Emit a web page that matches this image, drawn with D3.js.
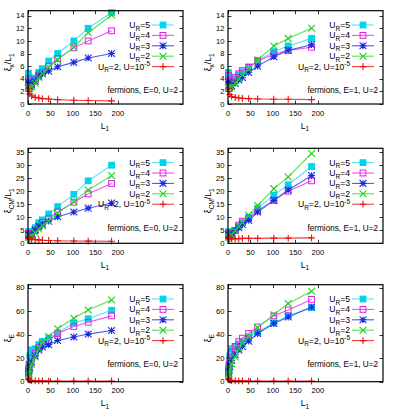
<!DOCTYPE html>
<html><head><meta charset="utf-8">
<script src="https://cdn.jsdelivr.net/npm/d3@7"></script>
<style>body{margin:0;background:#fff} svg{display:block} text{font-family:"Liberation Sans",Arial,sans-serif;fill:#000}</style>
</head><body><svg id="c" width="399" height="417"></svg>
<script>
// ---------- data ----------
const L1 = [1, 2, 4, 8, 16, 24, 32, 46, 66, 102, 134, 186];
const xTicks = [0, 50, 100, 150, 200];
const yTicksRow1 = [0, 2, 4, 6, 8, 10, 12, 14];
const yTicksRow2 = [0, 5, 10, 15, 20, 25, 30, 35];
const yTicksRow3 = [0, 20, 40, 60, 80];
const seriesNames = ["UR5", "UR4", "UR3", "UR2", "red"];
const panelTitles = ["fermions, E=0, U=2", "fermions, E=1, U=2"];

// xi_x / L1, E=0
const xiX_E0_UR5 = [4.9, 4.3, 3.3, 3.9, 4.1, 5.0, 5.6, 6.8, 8.0, 10.0, 12.0, 14.5];
const xiX_E0_UR4 = [4.0, 3.5, 3.0, 3.2, 3.8, 4.6, 5.0, 6.0, 7.2, 8.9, 10.0, 11.6];
const xiX_E0_UR3 = [3.4, 3.0, 2.8, 3.0, 3.6, 4.4, 4.8, 5.2, 5.9, 6.6, 7.3, 8.0];
const xiX_E0_UR2 = [2.7, 2.6, 2.5, 2.7, 3.3, 4.2, 4.8, 5.8, 7.0, 9.0, 11.3, 14.1];
const xiX_E0_red = [2.5, 2.0, 1.6, 1.3, 1.05, 0.95, 0.85, 0.8, 0.7, 0.6, 0.55, 0.5];
// xi_x / L1, E=1
const xiX_E1_UR5 = [5.0, 4.3, 3.3, 3.6, 4.0, 4.6, 5.1, 5.9, 6.9, 8.3, 9.2, 10.4];
const xiX_E1_UR4 = [4.5, 3.8, 3.3, 3.5, 4.2, 4.8, 5.3, 5.8, 6.8, 7.9, 8.5, 9.0];
const xiX_E1_UR3 = [3.5, 3.0, 2.8, 2.9, 3.3, 3.8, 4.2, 5.0, 6.0, 7.5, 8.5, 9.4];
const xiX_E1_UR2 = [2.7, 2.6, 2.5, 2.7, 3.2, 4.0, 4.6, 5.5, 7.0, 9.2, 10.4, 12.0];
const xiX_E1_red = [2.5, 2.0, 1.5, 1.2, 1.05, 0.95, 0.9, 0.85, 0.8, 0.75, 0.75, 0.7];
// xi_CM / L1, E=0
const xiCM_E0_UR5 = [4.5, 3.8, 3.5, 4.5, 6.0, 7.9, 9.0, 11.3, 14.1, 18.8, 24.0, 30.0];
const xiCM_E0_UR4 = [3.8, 3.2, 3.0, 3.8, 5.0, 6.5, 8.0, 9.5, 12.0, 15.8, 19.0, 23.0];
const xiCM_E0_UR3 = [3.3, 3.0, 3.0, 3.5, 5.0, 6.5, 7.3, 8.5, 10.2, 12.0, 13.5, 15.5];
const xiCM_E0_UR2 = [2.3, 2.3, 2.5, 3.0, 4.0, 5.5, 6.8, 8.5, 11.5, 16.0, 20.5, 26.0];
const xiCM_E0_red = [2.3, 1.9, 1.7, 1.5, 1.4, 1.3, 1.2, 1.1, 1.0, 0.9, 0.85, 0.8];
// xi_CM / L1, E=1
const xiCM_E1_UR5 = [4.5, 4.0, 3.5, 4.0, 5.0, 6.5, 8.0, 10.0, 13.5, 18.5, 22.5, 29.5];
const xiCM_E1_UR4 = [4.0, 3.5, 3.3, 4.0, 5.0, 7.0, 8.5, 9.5, 12.5, 16.5, 20.0, 24.0];
const xiCM_E1_UR3 = [3.3, 3.0, 3.0, 3.5, 4.8, 6.0, 7.2, 8.8, 12.0, 16.5, 20.5, 26.0];
const xiCM_E1_UR2 = [2.3, 2.3, 2.6, 3.2, 4.8, 6.5, 8.0, 10.8, 14.5, 21.0, 25.5, 34.5];
const xiCM_E1_red = [2.3, 1.9, 1.8, 1.8, 1.8, 1.8, 1.9, 1.9, 1.9, 2.0, 2.0, 2.1];
// xi_E, E=0
const xiE_E0_UR5 = [10, 15, 22, 27, 28, 31.5, 34.3, 37.2, 41.4, 49.9, 53.6, 60.7];
const xiE_E0_UR4 = [8, 11, 15, 20, 24, 29, 32, 35, 41, 47, 50.5, 56];
const xiE_E0_UR3 = [7, 9, 12, 17, 22, 27, 29.5, 31.5, 35, 38, 40.5, 43.5];
const xiE_E0_UR2 = [5, 7, 10, 15, 21, 28, 33, 38.5, 45, 54, 61, 69.5];
const xiE_E0_red = [2.5, 1.8, 1.3, 1.0, 0.8, 0.7, 0.7, 0.6, 0.6, 0.6, 0.6, 0.6];
// xi_E, E=1
const xiE_E1_UR5 = [10, 15, 22, 28, 30, 32, 34, 38, 42, 50, 56, 63];
const xiE_E1_UR4 = [8, 12, 18, 25, 30, 34, 37, 41, 46.5, 56, 61, 70];
const xiE_E1_UR3 = [7, 9, 13, 18, 23, 27, 30, 34.5, 41, 49.5, 55, 63.5];
const xiE_E1_UR2 = [5, 7, 10, 15, 21, 28, 33, 38, 46, 57, 66.5, 77];
const xiE_E1_red = [2.5, 1.8, 1.3, 1.0, 0.8, 0.7, 0.7, 0.6, 0.6, 0.6, 0.6, 0.6];

// ---------- layout ----------
const colX = [28, 228], plotW = 155;
const rows = [
  {top: 10.7, bottom: 104, ymax: 14.79, ticks: yTicksRow1, label: "x", over: true,
   data: [[xiX_E0_UR5, xiX_E0_UR4, xiX_E0_UR3, xiX_E0_UR2, xiX_E0_red],
          [xiX_E1_UR5, xiX_E1_UR4, xiX_E1_UR3, xiX_E1_UR2, xiX_E1_red]]},
  {top: 148.3, bottom: 243.3, ymax: 36.5, ticks: yTicksRow2, label: "CM", over: true,
   data: [[xiCM_E0_UR5, xiCM_E0_UR4, xiCM_E0_UR3, xiCM_E0_UR2, xiCM_E0_red],
          [xiCM_E1_UR5, xiCM_E1_UR4, xiCM_E1_UR3, xiCM_E1_UR2, xiCM_E1_red]]},
  {top: 284.7, bottom: 381.7, ymax: 82.5, ticks: yTicksRow3, label: "E", over: false,
   data: [[xiE_E0_UR5, xiE_E0_UR4, xiE_E0_UR3, xiE_E0_UR2, xiE_E0_red],
          [xiE_E1_UR5, xiE_E1_UR4, xiE_E1_UR3, xiE_E1_UR2, xiE_E1_red]]}
];
const styles = [
  {line: "#4ee6f0", color: "#00d4ec", marker: "sqf"},
  {line: "#ee55ee", color: "#e020e0", marker: "sqo"},
  {line: "#4a5ae8", color: "#1a2ae0", marker: "ast"},
  {line: "#55e055", color: "#20cc20", marker: "x"},
  {line: "#f04040", color: "#ee1010", marker: "plus"}
];

const svg = d3.select("#c");

function marker(g, type, x, y, color) {
  const s = 3.4;
  if (type === "sqf") {
    g.append("rect").attr("x", x - s).attr("y", y - s).attr("width", 2*s).attr("height", 2*s).attr("fill", color);
  } else if (type === "sqo") {
    g.append("rect").attr("x", x - s + 0.5).attr("y", y - s + 0.5).attr("width", 2*s - 1).attr("height", 2*s - 1)
      .attr("fill", "none").attr("stroke", color).attr("stroke-width", 1);
  } else {
    const p = d3.path();
    if (type === "x" || type === "ast") { p.moveTo(x - s, y - s); p.lineTo(x + s, y + s); p.moveTo(x - s, y + s); p.lineTo(x + s, y - s); }
    if (type === "plus" || type === "ast") { p.moveTo(x - s, y); p.lineTo(x + s, y); p.moveTo(x, y - s); p.lineTo(x, y + s); }
    g.append("path").attr("d", p.toString()).attr("stroke", color).attr("stroke-width", 1.1).attr("fill", "none");
  }
}

function subText(sel, parts) {
  let shift = 0;
  parts.forEach(([t, m]) => {
    const target = m === "sub" ? 2.5 : m === "sup" ? -3.5 : 0;
    sel.append("tspan").attr("dy", target - shift).attr("font-size", m === "n" ? null : "6.5px").text(t);
    shift = target;
  });
}

rows.forEach((row, ri) => {
  colX.forEach((x0, ci) => {
    const g = svg.append("g");
    const x = d3.scaleLinear().domain([0, 345]).range([x0, x0 + plotW]);
    const y = d3.scaleLinear().domain([0, row.ymax]).range([row.bottom, row.top]);

    const tl = 3.5;
    row.ticks.forEach(v => {
      const yy = Math.round(y(v)) + 0.5;
      g.append("line").attr("x1", x0).attr("x2", x0 + tl).attr("y1", yy).attr("y2", yy).attr("stroke", "#000").attr("stroke-width", 0.8);
      g.append("line").attr("x1", x0 + plotW - tl).attr("x2", x0 + plotW).attr("y1", yy).attr("y2", yy).attr("stroke", "#000").attr("stroke-width", 0.8);
      g.append("text").attr("x", x0 - 3.5).attr("y", y(v) + 2.7).attr("text-anchor", "end").attr("font-size", "7.6px").text(v);
    });
    xTicks.forEach(v => {
      const xx = Math.round(x(v)) + 0.5;
      g.append("line").attr("x1", xx).attr("x2", xx).attr("y1", row.bottom).attr("y2", row.bottom - tl).attr("stroke", "#000").attr("stroke-width", 0.8);
      g.append("line").attr("x1", xx).attr("x2", xx).attr("y1", row.top).attr("y2", row.top + tl).attr("stroke", "#000").attr("stroke-width", 0.8);
      g.append("text").attr("x", x(v)).attr("y", row.bottom + 11.5).attr("text-anchor", "middle").attr("font-size", "7.6px").text(v);
    });

    const line = d3.line().x((d, i) => x(L1[i])).y(d => y(d));
    row.data[ci].forEach((vals, si) => {
      const st = styles[si];
      g.append("path").attr("d", line(vals)).attr("fill", "none").attr("stroke", st.line).attr("stroke-width", 1.1);
      vals.forEach((v, i) => marker(g, st.marker, x(L1[i]), y(v), st.color));
    });

    g.append("rect").attr("x", x0).attr("y", row.top).attr("width", plotW).attr("height", row.bottom - row.top)
      .attr("fill", "none").attr("stroke", "#000").attr("stroke-width", 1.2);

    const ly0 = row.top + 17.3;
    g.append("rect").attr("x", x0 + 134).attr("y", row.top + 5.5).attr("width", 1.2).attr("height", 1.2).attr("fill", "#e8e890");
    const labels = [["5"], ["4"], ["3"], ["2"], ["2, U=10", "-5"]];
    labels.forEach((lb, i) => {
      const ly = ly0 + i * 10.4;
      const t = g.append("text").attr("x", x0 + 122).attr("y", ly).attr("text-anchor", "end").attr("font-size", "8.6px");
      const parts = [["U", "n"], ["R", "sub"], ["=" + lb[0], "n"]];
      if (lb[1]) parts.push([lb[1], "sup"]);
      subText(t, parts);
      const st = styles[i];
      g.append("line").attr("x1", x0 + 124).attr("x2", x0 + 146).attr("y1", ly - 3).attr("y2", ly - 3).attr("stroke", st.line).attr("stroke-width", 1.1);
      marker(g, st.marker, x0 + 135, ly - 3, st.color);
    });
    g.append("text").attr("x", x0 + 150).attr("y", row.top + 82.3).attr("text-anchor", "end").attr("font-size", "8.2px").text(panelTitles[ci]);

    const xl = g.append("text").attr("x", x0 + 77).attr("y", row.bottom + 24.5).attr("text-anchor", "middle").attr("font-size", "8.6px");
    subText(xl, [["L", "n"], ["1", "sub"]]);
    const cy = (row.top + row.bottom) / 2 + 5;
    const yl = g.append("text").attr("transform", `translate(${x0 - 17},${cy}) rotate(-90)`).attr("text-anchor", "middle").attr("font-size", "8.6px");
    const yparts = [["ξ", "n"], [row.label, "sub"]];
    if (row.over) { yparts.push(["/L", "n"]); yparts.push(["1", "sub"]); }
    subText(yl, yparts);
  });
});
</script>
</body></html>
